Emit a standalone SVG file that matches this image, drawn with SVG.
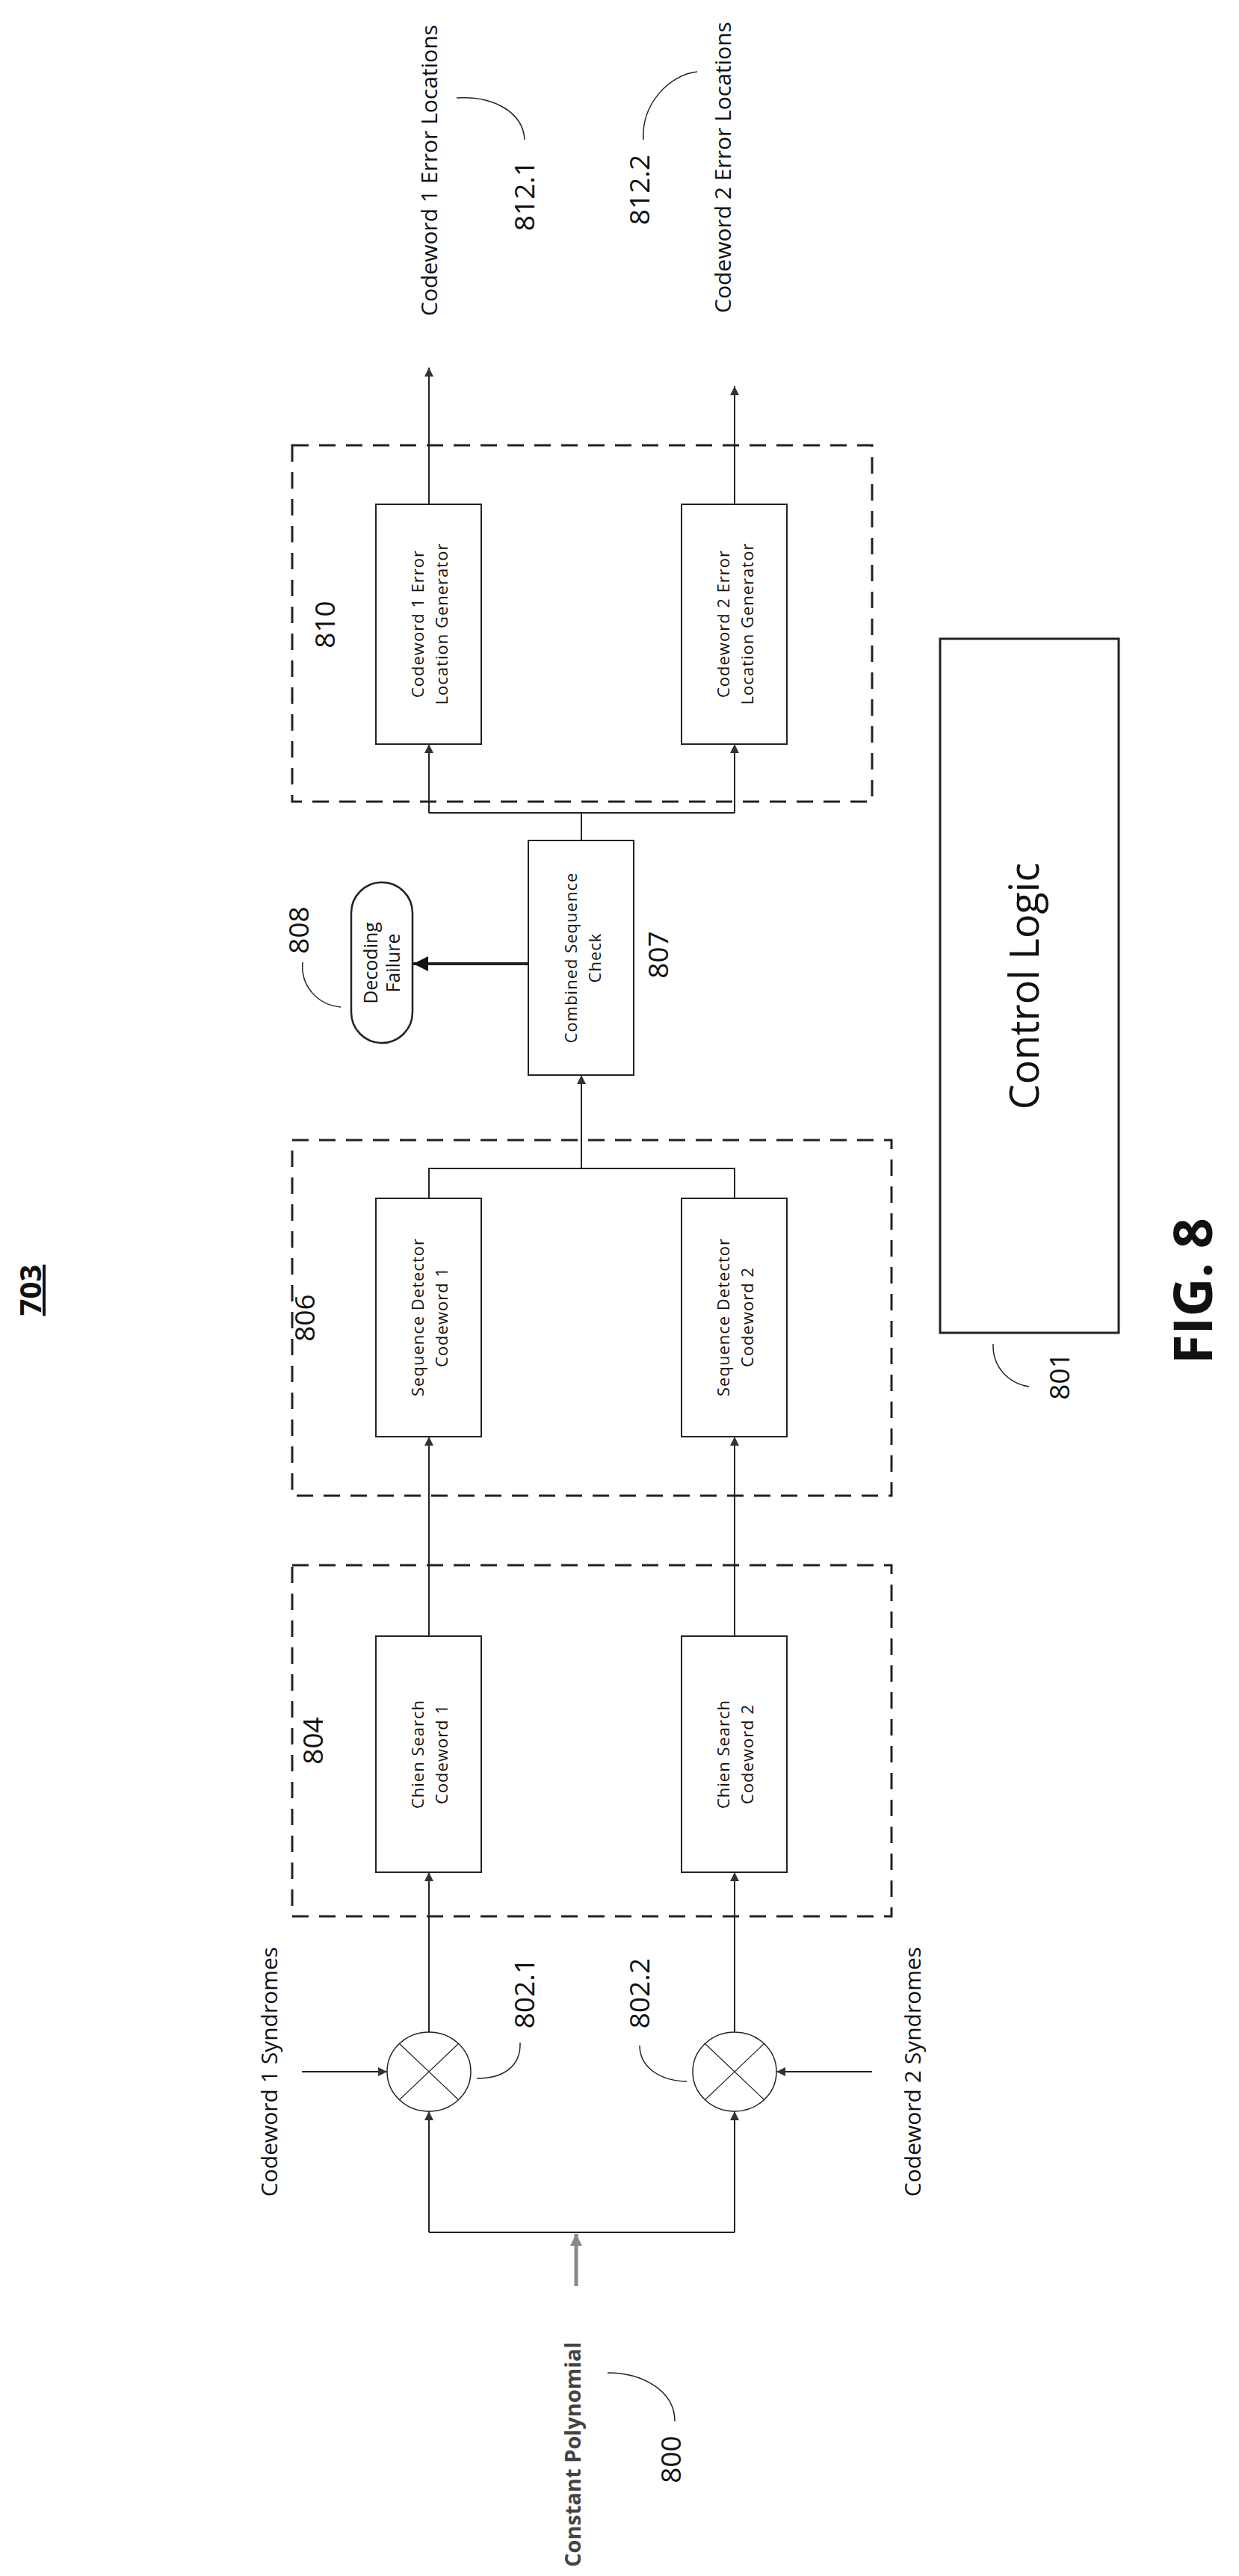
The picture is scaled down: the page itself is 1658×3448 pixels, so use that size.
<svg xmlns="http://www.w3.org/2000/svg" width="1658" height="3448" viewBox="0 0 1658 3448">
<style>
text{font-family:"Open Sans","Liberation Sans",sans-serif;fill:#111}
.box{fill:#fff;stroke:#222;stroke-width:2}
.dash{fill:none;stroke:#222;stroke-width:3;stroke-dasharray:22 14}
.ln{fill:none;stroke:#222;stroke-width:2}
.lead{fill:none;stroke:#222;stroke-width:1.5}
.bt{font-size:22px;text-anchor:middle;letter-spacing:1px}
.lab{font-size:30px;text-anchor:middle}
.num{font-size:37px;text-anchor:middle}
</style>
<defs>
<marker id="ah" viewBox="0 0 10 10" refX="10" refY="5" markerWidth="14" markerHeight="12" orient="auto" markerUnits="userSpaceOnUse"><path d="M0,0 L10,5 L0,10 z" fill="#333"/></marker>
<marker id="ah2" viewBox="0 0 10 10" refX="10" refY="5" markerWidth="22" markerHeight="20" orient="auto" markerUnits="userSpaceOnUse"><path d="M0,0 L10,5 L0,10 z" fill="#111"/></marker>
<marker id="ahg" viewBox="0 0 10 10" refX="10" refY="5" markerWidth="22" markerHeight="16" orient="auto" markerUnits="userSpaceOnUse"><path d="M0,0 L10,5 L0,10 z" fill="#888"/></marker>
</defs>

<g id="title">
<text transform="translate(55,1727) rotate(-90)" style="font-size:40px;font-weight:bold;text-anchor:middle;text-decoration:underline">703</text>
<text transform="translate(1622,1728) rotate(-90)" style="font-size:72px;font-weight:bold;text-anchor:middle">FIG. 8</text>
</g>

<g id="n810">
<rect class="dash" x="391" y="596" width="776" height="477"/>
<text class="num" transform="translate(448,836) rotate(-90)">810</text>
</g>
<g id="n810a">
<rect class="box" x="503" y="675" width="141" height="321"/>
<text class="bt" transform="translate(573,835) rotate(-90)"><tspan x="0" dy="-6">Codeword 1 Error</tspan><tspan x="0" dy="32">Location Generator</tspan></text>
</g>
<g id="n810b">
<rect class="box" x="912" y="675" width="141" height="321"/>
<text class="bt" transform="translate(982,835) rotate(-90)"><tspan x="0" dy="-6">Codeword 2 Error</tspan><tspan x="0" dy="32">Location Generator</tspan></text>
</g>

<g id="n812">
<text class="lab" transform="translate(585,423) rotate(-90)" style="text-anchor:start">Codeword 1 Error Locations</text>
<text class="lab" transform="translate(978,419) rotate(-90)" style="text-anchor:start">Codeword 2 Error Locations</text>
<text class="num" transform="translate(715,262) rotate(-90)">812.1</text>
<text class="num" transform="translate(869,254) rotate(-90)">812.2</text>
<path class="lead" d="M702,187 C700,150 660,128 611,131"/>
<path class="lead" d="M861,187 C858,140 895,100 933,96"/>
</g>

<g id="n807">
<rect class="box" x="707" y="1125" width="141" height="314"/>
<text class="bt" transform="translate(778,1282) rotate(-90)"><tspan x="0" dy="-6">Combined Sequence</tspan><tspan x="0" dy="32">Check</tspan></text>
<text class="num" transform="translate(894,1278) rotate(-90)">807</text>
</g>

<g id="n808">
<rect class="box" x="470" y="1181" width="82" height="215" rx="41" ry="41" style="stroke-width:2.5"/>
<text transform="translate(511,1289) rotate(-90)" style="font-size:25px;text-anchor:middle"><tspan x="0" dy="-6">Decoding</tspan><tspan x="0" dy="30">Failure</tspan></text>
<text class="num" transform="translate(413,1245) rotate(-90)">808</text>
<path class="lead" d="M456,1348 C425,1345 402,1320 405,1288"/>
</g>

<g id="n806">
<rect class="dash" x="391" y="1526" width="802" height="476"/>
<text class="num" transform="translate(421,1764) rotate(-90)">806</text>
</g>
<g id="n806a">
<rect class="box" x="503" y="1604" width="141" height="319"/>
<text class="bt" transform="translate(573,1763) rotate(-90)"><tspan x="0" dy="-6">Sequence Detector</tspan><tspan x="0" dy="32">Codeword 1</tspan></text>
</g>
<g id="n806b">
<rect class="box" x="912" y="1604" width="141" height="319"/>
<text class="bt" transform="translate(982,1763) rotate(-90)"><tspan x="0" dy="-6">Sequence Detector</tspan><tspan x="0" dy="32">Codeword 2</tspan></text>
</g>

<g id="n804">
<rect class="dash" x="391" y="2095" width="802" height="470"/>
<text class="num" transform="translate(432,2330) rotate(-90)">804</text>
</g>
<g id="n804a">
<rect class="box" x="503" y="2190" width="141" height="316"/>
<text class="bt" transform="translate(573,2348) rotate(-90)"><tspan x="0" dy="-6">Chien Search</tspan><tspan x="0" dy="32">Codeword 1</tspan></text>
</g>
<g id="n804b">
<rect class="box" x="912" y="2190" width="141" height="316"/>
<text class="bt" transform="translate(982,2348) rotate(-90)"><tspan x="0" dy="-6">Chien Search</tspan><tspan x="0" dy="32">Codeword 2</tspan></text>
</g>

<g id="n802_1">
<ellipse class="box" cx="574" cy="2773" rx="56" ry="53" style="stroke-width:1.5"/>
<path class="ln" style="stroke-width:1.2" d="M534,2735 L614,2811 M614,2735 L534,2811"/>
<text class="num" transform="translate(715,2668) rotate(-90)">802.1</text>
<path class="lead" d="M638,2782 C675,2782 697,2765 696,2734"/>
</g>
<g id="n802_2">
<ellipse class="box" cx="983" cy="2773" rx="56" ry="53" style="stroke-width:1.5"/>
<path class="ln" style="stroke-width:1.2" d="M943,2735 L1023,2811 M1023,2735 L943,2811"/>
<text class="num" transform="translate(869,2668) rotate(-90)">802.2</text>
<path class="lead" d="M919,2786 C880,2785 856,2765 856,2738"/>
</g>

<g id="n801">
<rect class="box" x="1258" y="855" width="239" height="929" style="stroke-width:3"/>
<text transform="translate(1390,1320) rotate(-90)" style="font-size:54px;text-anchor:middle">Control Logic</text>
<text class="num" transform="translate(1431,1842) rotate(-90)">801</text>
<path class="lead" d="M1377,1856 C1350,1852 1328,1830 1329,1799"/>
</g>

<g id="n800">
<text transform="translate(777,3436) rotate(-90)" style="font-size:29px;font-weight:bold;fill:#444">Constant Polynomial</text>
<text class="num" transform="translate(911,3292) rotate(-90)">800</text>
<path class="lead" d="M903,3241 C903,3200 860,3176 813,3176"/>
</g>

<g id="inputs">
<text class="lab" transform="translate(371,2773) rotate(-90)">Codeword 1 Syndromes</text>
<text class="lab" transform="translate(1232,2773) rotate(-90)">Codeword 2 Syndromes</text>
</g>

<g id="connectors">
<path class="ln" d="M771,3060 L771,2990" style="stroke:#888;stroke-width:5" marker-end="url(#ahg)"/>
<path class="ln" d="M574,2988 L983,2988"/>
<path class="ln" d="M574,2988 L574,2826" marker-end="url(#ah)"/>
<path class="ln" d="M983,2988 L983,2826" marker-end="url(#ah)"/>
<path class="ln" d="M404,2773 L518,2773" marker-end="url(#ah)"/>
<path class="ln" d="M1167,2773 L1039,2773" marker-end="url(#ah)"/>
<path class="ln" d="M574,2720 L574,2506" marker-end="url(#ah)"/>
<path class="ln" d="M983,2720 L983,2506" marker-end="url(#ah)"/>
<path class="ln" d="M574,2190 L574,1923" marker-end="url(#ah)"/>
<path class="ln" d="M983,2190 L983,1923" marker-end="url(#ah)"/>
<path class="ln" d="M574,1604 L574,1564 L983,1564 L983,1604"/>
<path class="ln" d="M778,1564 L778,1439" marker-end="url(#ah)"/>
<path class="ln" d="M707,1290 L553,1290" style="stroke-width:4" marker-end="url(#ah2)"/>
<path class="ln" d="M778,1125 L778,1088"/>
<path class="ln" d="M574,1088 L983,1088"/>
<path class="ln" d="M574,1088 L574,996" marker-end="url(#ah)"/>
<path class="ln" d="M983,1088 L983,996" marker-end="url(#ah)"/>
<path class="ln" d="M574,675 L574,492" marker-end="url(#ah)"/>
<path class="ln" d="M983,675 L983,517" marker-end="url(#ah)"/>
</g>
</svg>
